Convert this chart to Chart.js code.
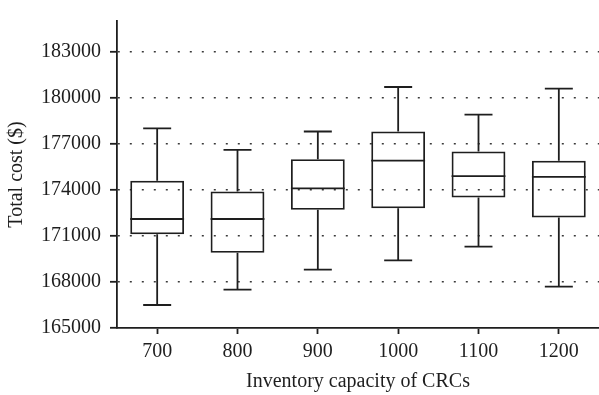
<!DOCTYPE html>
<html>
<head>
<meta charset="utf-8">
<script src="https://cdn.jsdelivr.net/npm/chart.js@4.4.0/dist/chart.umd.min.js"></script>
<style>
  html, body { margin: 0; padding: 0; background: #fff; }
  #wrap { width: 599px; height: 395px; }
</style>
</head>
<body>
<div id="wrap"><canvas id="boxChart"></canvas></div>
<script>
// data
var capacities = ['700', '800', '900', '1000', '1100', '1200'];
var whiskerMin = [166500, 167500, 168800, 169400, 170300, 167700];
var quart1 = [171100, 169900, 172700, 172800, 173500, 172200];
var medians = [172100, 172100, 174100, 175900, 174900, 174850];
var quart3 = [174600, 173900, 176000, 177800, 176500, 175900];
var whiskerMax = [178000, 176600, 177800, 180700, 178900, 180600];
var yTicks = [165000, 168000, 171000, 174000, 177000, 180000, 183000];

var ink = '#1e1e1e';
var serif = 'Liberation Serif';

// whiskers, caps and median line, placed with the chart's own scales
var boxParts = {
    id: 'boxParts',
    afterDatasetsDraw: function (chart) {
        var y = chart.scales.y;
        var bars = chart.getDatasetMeta(0).data;
        var c = chart.ctx;
        c.save();
        c.strokeStyle = ink;
        c.lineWidth = 1.8;
        bars.forEach(function (bar, i) {
            var x = bar.x, half = bar.width / 2, cap = bar.width * 0.26;
            var yMin = y.getPixelForValue(whiskerMin[i]);
            var yQ1 = y.getPixelForValue(quart1[i]);
            var yMed = y.getPixelForValue(medians[i]);
            var yQ3 = y.getPixelForValue(quart3[i]);
            var yMax = y.getPixelForValue(whiskerMax[i]);
            c.beginPath();
            c.moveTo(x, yQ3); c.lineTo(x, yMax);
            c.moveTo(x - cap, yMax); c.lineTo(x + cap, yMax);
            c.moveTo(x, yQ1); c.lineTo(x, yMin);
            c.moveTo(x - cap, yMin); c.lineTo(x + cap, yMin);
            c.moveTo(x - half, yMed); c.lineTo(x + half, yMed);
            c.stroke();
        });
        c.restore();
    }
};

var ctx = document.getElementById('boxChart');
var boxChart = new Chart(ctx, {
    type: 'bar',
    data: {
        labels: capacities,
        datasets: [{
            label: 'Total cost',
            data: quart1.map(function (v, i) { return [v, quart3[i]]; }),
            backgroundColor: 'rgba(255,255,255,0)',
            borderColor: ink,
            borderWidth: 1.8,
            borderSkipped: false,
            barPercentage: 0.67,
            categoryPercentage: 1
        }]
    },
    options: {
        responsive: true,
        maintainAspectRatio: false,
        animation: false,
        layout: { padding: { top: 7, right: 0, left: 0, bottom: 0 } },
        plugins: {
            legend: { display: false },
            tooltip: { enabled: false }
        },
        scales: {
            x: {
                grid: {
                    offset: false,
                    drawOnChartArea: false,
                    tickLength: 6,
                    tickColor: ink,
                    tickWidth: 1.8
                },
                border: { color: ink, width: 1.8 },
                ticks: {
                    color: ink,
                    padding: 6,
                    font: { family: serif, size: 20 }
                },
                title: {
                    display: true,
                    text: 'Inventory capacity of CRCs',
                    color: ink,
                    padding: { top: 0, bottom: 1 },
                    font: { family: serif, size: 20 }
                },
                afterFit: function (scale) { scale.height = 67; }
            },
            y: {
                min: 165000,
                max: 185000,
                afterBuildTicks: function (scale) {
                    scale.ticks = yTicks.map(function (v) { return { value: v }; });
                },
                grid: {
                    color: function (c) {
                        return c.tick && c.tick.value === 165000 ? 'rgba(0,0,0,0)' : '#3a3a3a';
                    },
                    lineWidth: 1.6,
                    tickLength: 7,
                    tickColor: ink,
                    tickWidth: 1.8
                },
                border: { color: ink, width: 1.8, dash: [2, 10] },
                ticks: {
                    color: ink,
                    padding: 9,
                    font: { family: serif, size: 20 },
                    callback: function (v) { return String(v); }
                },
                title: {
                    display: true,
                    text: 'Total cost ($)',
                    color: ink,
                    padding: { top: 5, bottom: 0 },
                    font: { family: serif, size: 20 }
                },
                afterFit: function (scale) { scale.width = 117; }
            }
        }
    },
    plugins: [boxParts]
});
</script>
</body>
</html>
